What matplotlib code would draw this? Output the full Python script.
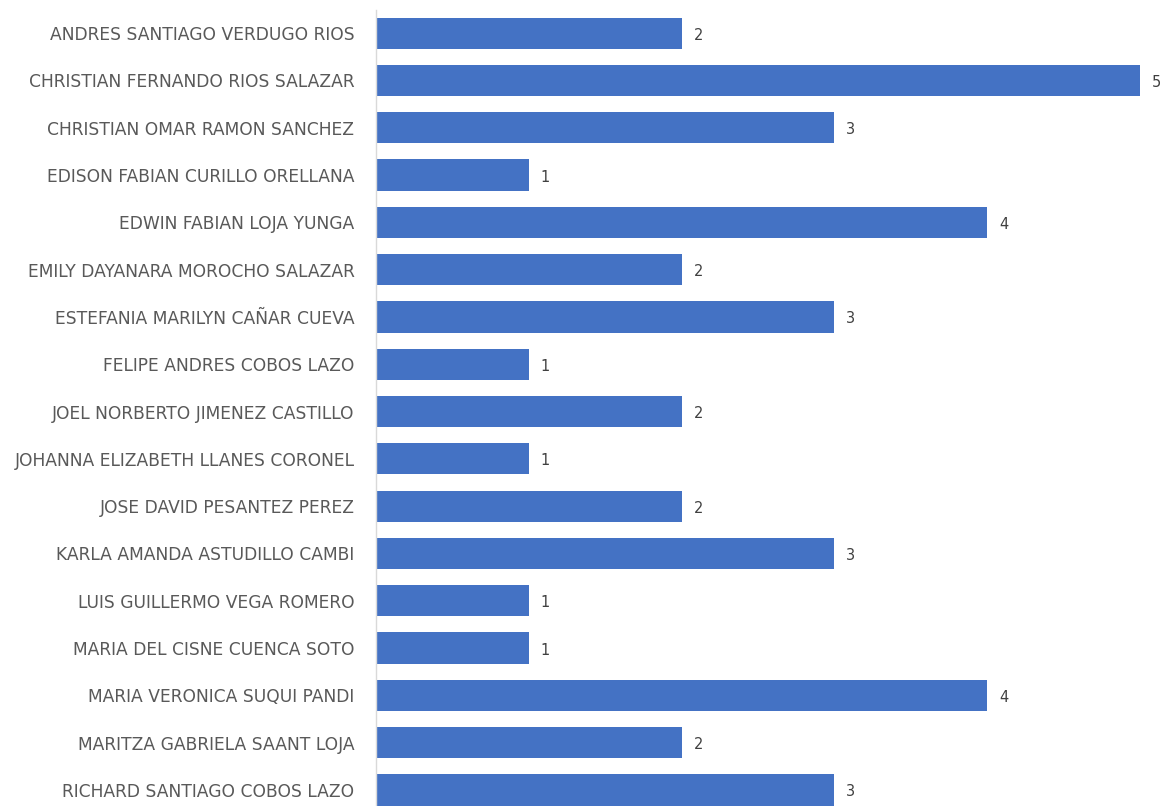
import matplotlib
matplotlib.use("Agg")
import matplotlib.pyplot as plt

names = [
    "ANDRES SANTIAGO VERDUGO RIOS",
    "CHRISTIAN FERNANDO RIOS SALAZAR",
    "CHRISTIAN OMAR RAMON SANCHEZ",
    "EDISON FABIAN CURILLO ORELLANA",
    "EDWIN FABIAN LOJA YUNGA",
    "EMILY DAYANARA MOROCHO SALAZAR",
    "ESTEFANIA MARILYN CAÑAR CUEVA",
    "FELIPE ANDRES COBOS LAZO",
    "JOEL NORBERTO JIMENEZ CASTILLO",
    "JOHANNA ELIZABETH LLANES CORONEL",
    "JOSE DAVID PESANTEZ PEREZ",
    "KARLA AMANDA ASTUDILLO CAMBI",
    "LUIS GUILLERMO VEGA ROMERO",
    "MARIA DEL CISNE CUENCA SOTO",
    "MARIA VERONICA SUQUI PANDI",
    "MARITZA GABRIELA SAANT LOJA",
    "RICHARD SANTIAGO COBOS LAZO",
]
values = [2, 5, 3, 1, 4, 2, 3, 1, 2, 1, 2, 3, 1, 1, 4, 2, 3]

W, H = 1162, 806
fig = plt.figure(figsize=(W / 100, H / 100), dpi=100)
left = 376 / W
right = 1140 / W
top_px = 9.5
bottom_px = 813.6
ax = fig.add_axes([left, 1 - bottom_px / H, right - left, (bottom_px - top_px) / H])

y = list(range(len(names)))
bars = ax.barh(y, values, height=0.66, color="#4472C4", zorder=2)
ax.set_xlim(0, 5)
ax.set_ylim(len(names) - 0.5, -0.5)
ax.set_yticks(y)
ax.set_yticklabels(names, fontsize=12.3, color="#595959", family="DejaVu Sans")
ax.tick_params(axis="y", length=0, pad=15.5)
ax.set_xticks([])
for s in ["top", "right", "bottom"]:
    ax.spines[s].set_visible(False)
ax.spines["left"].set_color("#D9D9D9")
ax.spines["left"].set_linewidth(1.0)

for b, v in zip(bars, values):
    ax.annotate(str(v), xy=(v, b.get_y() + b.get_height() / 2), xytext=(12, -2),
                textcoords="offset pixels",
                ha="left", va="center", fontsize=10.5, color="#404040",
                family="DejaVu Sans", annotation_clip=False)

fig.savefig("out.png", dpi=100)
